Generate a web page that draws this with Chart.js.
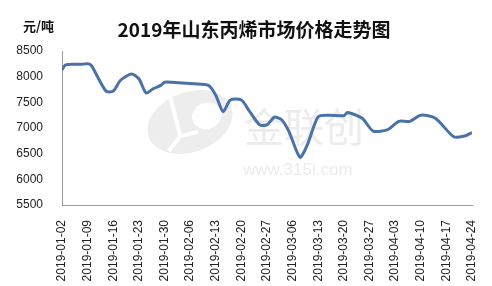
<!DOCTYPE html>
<html>
<head>
<meta charset="utf-8">
<script src="https://cdn.jsdelivr.net/npm/chart.js@4/dist/chart.umd.min.js"></script>
<style>
  html, body { margin: 0; padding: 0; background: #fff; }
  #wrap { width: 492px; height: 286px; }
</style>
</head>
<body>
<div id="wrap"><canvas id="c" width="492" height="286"></canvas></div>
<script>
// observation dates (2019) and price, yuan/ton
var obsDates = ['01-02','01-03','01-07','01-09','01-10','01-14','01-16','01-18','01-21','01-23',
  '01-25','01-27','01-29','01-30','02-01','02-07','02-11','02-13','02-15','02-17',
  '02-20','02-22','02-25','02-27','03-01','03-03','03-05','03-08','03-10','03-13',
  '03-16','03-20','03-21','03-25','03-28','04-01','04-04','04-07','04-10','04-14',
  '04-19','04-22','04-24'];
var prices = [8130,8230,8240,8250,8220,7720,7720,7930,8050,7960,
  7680,7770,7830,7890,7890,7860,7830,7640,7320,7545,
  7545,7350,7060,7060,7210,7160,6930,6430,6670,7220,
  7250,7240,7300,7190,6940,6970,7130,7130,7250,7190,
  6830,6845,6910];
var tickLabels = ['2019-01-02','2019-01-09','2019-01-16','2019-01-23','2019-01-30','2019-02-06',
  '2019-02-13','2019-02-20','2019-02-27','2019-03-06','2019-03-13','2019-03-20',
  '2019-03-27','2019-04-03','2019-04-10','2019-04-17','2019-04-24'];
var yTicks = [5500, 6000, 6500, 7000, 7500, 8000, 8500];

var start = Date.UTC(2019, 0, 2);
function dayOf(md) {
  var p = md.split('-');
  return Math.round((Date.UTC(2019, +p[0] - 1, +p[1]) - start) / 86400000);
}
var points = obsDates.map(function(d, i) { return { x: dayOf(d), y: prices[i] }; });

// title, unit and the faint watermark
var decor = {
  id: 'decor',
  beforeDatasetsDraw: function(chart) {
    var ctx = chart.ctx;
    ctx.save();
    // logo
    ctx.translate(190, 122);
    ctx.rotate(-0.35);
    ctx.fillStyle = '#ededed';
    ctx.beginPath();
    ctx.ellipse(0, 0, 44, 30, 0, 0, Math.PI * 2);
    ctx.fill();
    ctx.fillStyle = '#fff';
    ctx.beginPath();
    ctx.ellipse(18, 0, 15, 13, 0, 0, Math.PI * 2);
    ctx.fill();
    ctx.strokeStyle = '#fff';
    ctx.lineWidth = 4;
    ctx.beginPath();
    ctx.moveTo(-10, -30); ctx.lineTo(-14, 10); ctx.lineTo(4, 12);
    ctx.moveTo(-14, 10); ctx.lineTo(-30, 20);
    ctx.stroke();
    ctx.restore();

    ctx.save();
    ctx.fillStyle = '#ececec';
    ctx.textBaseline = 'alphabetic';
    ctx.font = '40px "Noto Sans CJK SC"';
    ctx.fillText('金联创', 244, 142);
    ctx.font = '17px "Liberation Sans"';
    ctx.fillText('www.315i.com', 243, 175);
    ctx.restore();
  },
  afterDraw: function(chart) {
    var ctx = chart.ctx;
    ctx.save();
    ctx.fillStyle = '#111';
    ctx.textBaseline = 'middle';
    ctx.textAlign = 'center';
    ctx.font = 'bold 19px "Noto Sans CJK SC"';
    ctx.fillText('2019年山东丙烯市场价格走势图', 254, 30);
    ctx.textAlign = 'left';
    ctx.font = 'bold 13px "Noto Sans CJK SC"';
    ctx.fillText('元/吨', 23, 26);
    ctx.restore();
  }
};

new Chart(document.getElementById('c'), {
  type: 'line',
  data: {
    datasets: [{
      data: points,
      borderColor: '#4a72a6',
      borderWidth: 3,
      pointRadius: 0,
      tension: 0.25,
      fill: false
    }]
  },
  options: {
    responsive: false,
    animation: false,
    devicePixelRatio: 1,
    layout: { padding: { top: 51, right: 20, left: 0, bottom: 0 } },
    plugins: { legend: { display: false }, tooltip: { enabled: false } },
    scales: {
      x: {
        type: 'linear',
        min: 0,
        max: 112,
        grid: { display: false },
        border: { display: true, color: '#9a9a9a', width: 1 },
        ticks: {
          stepSize: 7,
          autoSkip: false,
          minRotation: 90,
          maxRotation: 90,
          padding: 7,
          color: '#222',
          font: { family: 'Liberation Sans', size: 12 },
          callback: function(v) { return tickLabels[Math.round(v / 7)]; }
        },
        afterFit: function(s) { s.height = 81; s.paddingLeft = 0; s.paddingRight = 0; }
      },
      y: {
        min: 5500,
        max: 8500,
        grid: { display: false },
        border: { display: true, color: '#9a9a9a', width: 1 },
        afterBuildTicks: function(s) { s.ticks = yTicks.map(function(v) { return { value: v }; }); },
        ticks: {
          padding: 11,
          color: '#222',
          font: { family: 'Liberation Sans', size: 12 },
          callback: function(v) { return String(v); }
        },
        afterFit: function(s) { s.width = 62; s.paddingTop = 0; s.paddingBottom = 0; }
      }
    }
  },
  plugins: [decor]
});
</script>
</body>
</html>
